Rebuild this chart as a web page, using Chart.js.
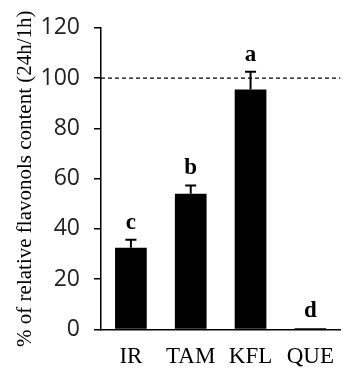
<!DOCTYPE html>
<html>
<head>
<meta charset="utf-8">
<script src="https://cdn.jsdelivr.net/npm/chart.js@4/dist/chart.umd.min.js"></script>
<style>
  html, body { margin: 0; padding: 0; background: #fff; }
  #wrap { width: 348px; height: 373px; }
</style>
</head>
<body>
<div id="wrap"><canvas id="chart" width="348" height="373"></canvas></div>
<script>
const categories = ["IR", "TAM", "KFL", "QUE"];
const values = [32.5, 54, 95.5, 0.6];
const errors = [3.2, 3.3, 7, 0];
const letters = ["c", "b", "a", "d"];
const referenceLevel = 100;
const yTitle = "% of relative flavonols content (24h/1h)";

const annotations = {
  id: "annotations",
  afterDatasetsDraw(chart) {
    const { ctx, chartArea, scales } = chart;
    const x = scales.x;
    const y = scales.y;

    // dashed 100% line
    ctx.save();
    ctx.strokeStyle = "#000";
    ctx.lineWidth = 1.2;
    ctx.setLineDash([4, 3]);
    const yRef = y.getPixelForValue(referenceLevel);
    ctx.beginPath();
    ctx.moveTo(chartArea.left, yRef);
    ctx.lineTo(chartArea.right, yRef);
    ctx.stroke();
    ctx.restore();

    // error bars (upper half only) and letters
    ctx.save();
    ctx.strokeStyle = "#000";
    ctx.fillStyle = "#000";
    ctx.lineWidth = 2;
    ctx.font = "bold 23px 'Liberation Serif', 'Times New Roman', serif";
    ctx.textAlign = "center";
    ctx.textBaseline = "alphabetic";
    categories.forEach((cat, i) => {
      const cx = x.getPixelForValue(i);
      const yTop = y.getPixelForValue(values[i]);
      const yErr = y.getPixelForValue(values[i] + errors[i]);
      if (errors[i] > 0) {
        ctx.beginPath();
        ctx.moveTo(cx, yTop);
        ctx.lineTo(cx, yErr);
        ctx.moveTo(cx - 5.5, yErr);
        ctx.lineTo(cx + 5.5, yErr);
        ctx.stroke();
      }
      ctx.fillText(letters[i], cx, yErr - 11);
    });
    ctx.restore();
  },
};

new Chart(document.getElementById("chart"), {
  type: "bar",
  data: {
    labels: categories,
    datasets: [
      {
        data: values,
        backgroundColor: "#000",
        borderWidth: 0,
        barPercentage: 0.53,
        categoryPercentage: 1,
      },
    ],
  },
  options: {
    responsive: false,
    animation: false,
    layout: { padding: { top: 26, left: 0, right: 0, bottom: 0 } },
    plugins: {
      legend: { display: false },
      tooltip: { enabled: false },
    },
    scales: {
      x: {
        grid: { display: false, drawTicks: false },
        border: { display: true, color: "#000", width: 1.5 },
        ticks: {
          color: "#000",
          padding: 14,
          font: { family: "'Liberation Serif', 'Times New Roman', serif", size: 23 },
        },
        afterFit(scale) {
          scale.height = 43.5;
        },
      },
      y: {
        min: 0,
        max: 120,
        grid: {
          display: true,
          drawOnChartArea: false,
          drawTicks: true,
          tickLength: 7,
          color: "#000",
          lineWidth: 1.5,
        },
        border: { display: true, color: "#000", width: 1.5 },
        ticks: {
          stepSize: 20,
          color: "#222",
          padding: 14,
          font: { family: "'Open Sans', 'Noto Sans', sans-serif", size: 23 },
        },
        title: {
          display: true,
          text: yTitle,
          color: "#000",
          padding: { top: 13, bottom: 0 },
          font: { family: "'Liberation Serif', 'Times New Roman', serif", size: 21 },
        },
        afterFit(scale) {
          scale.width = 101;
        },
      },
    },
  },
  plugins: [annotations],
});
</script>
</body>
</html>
